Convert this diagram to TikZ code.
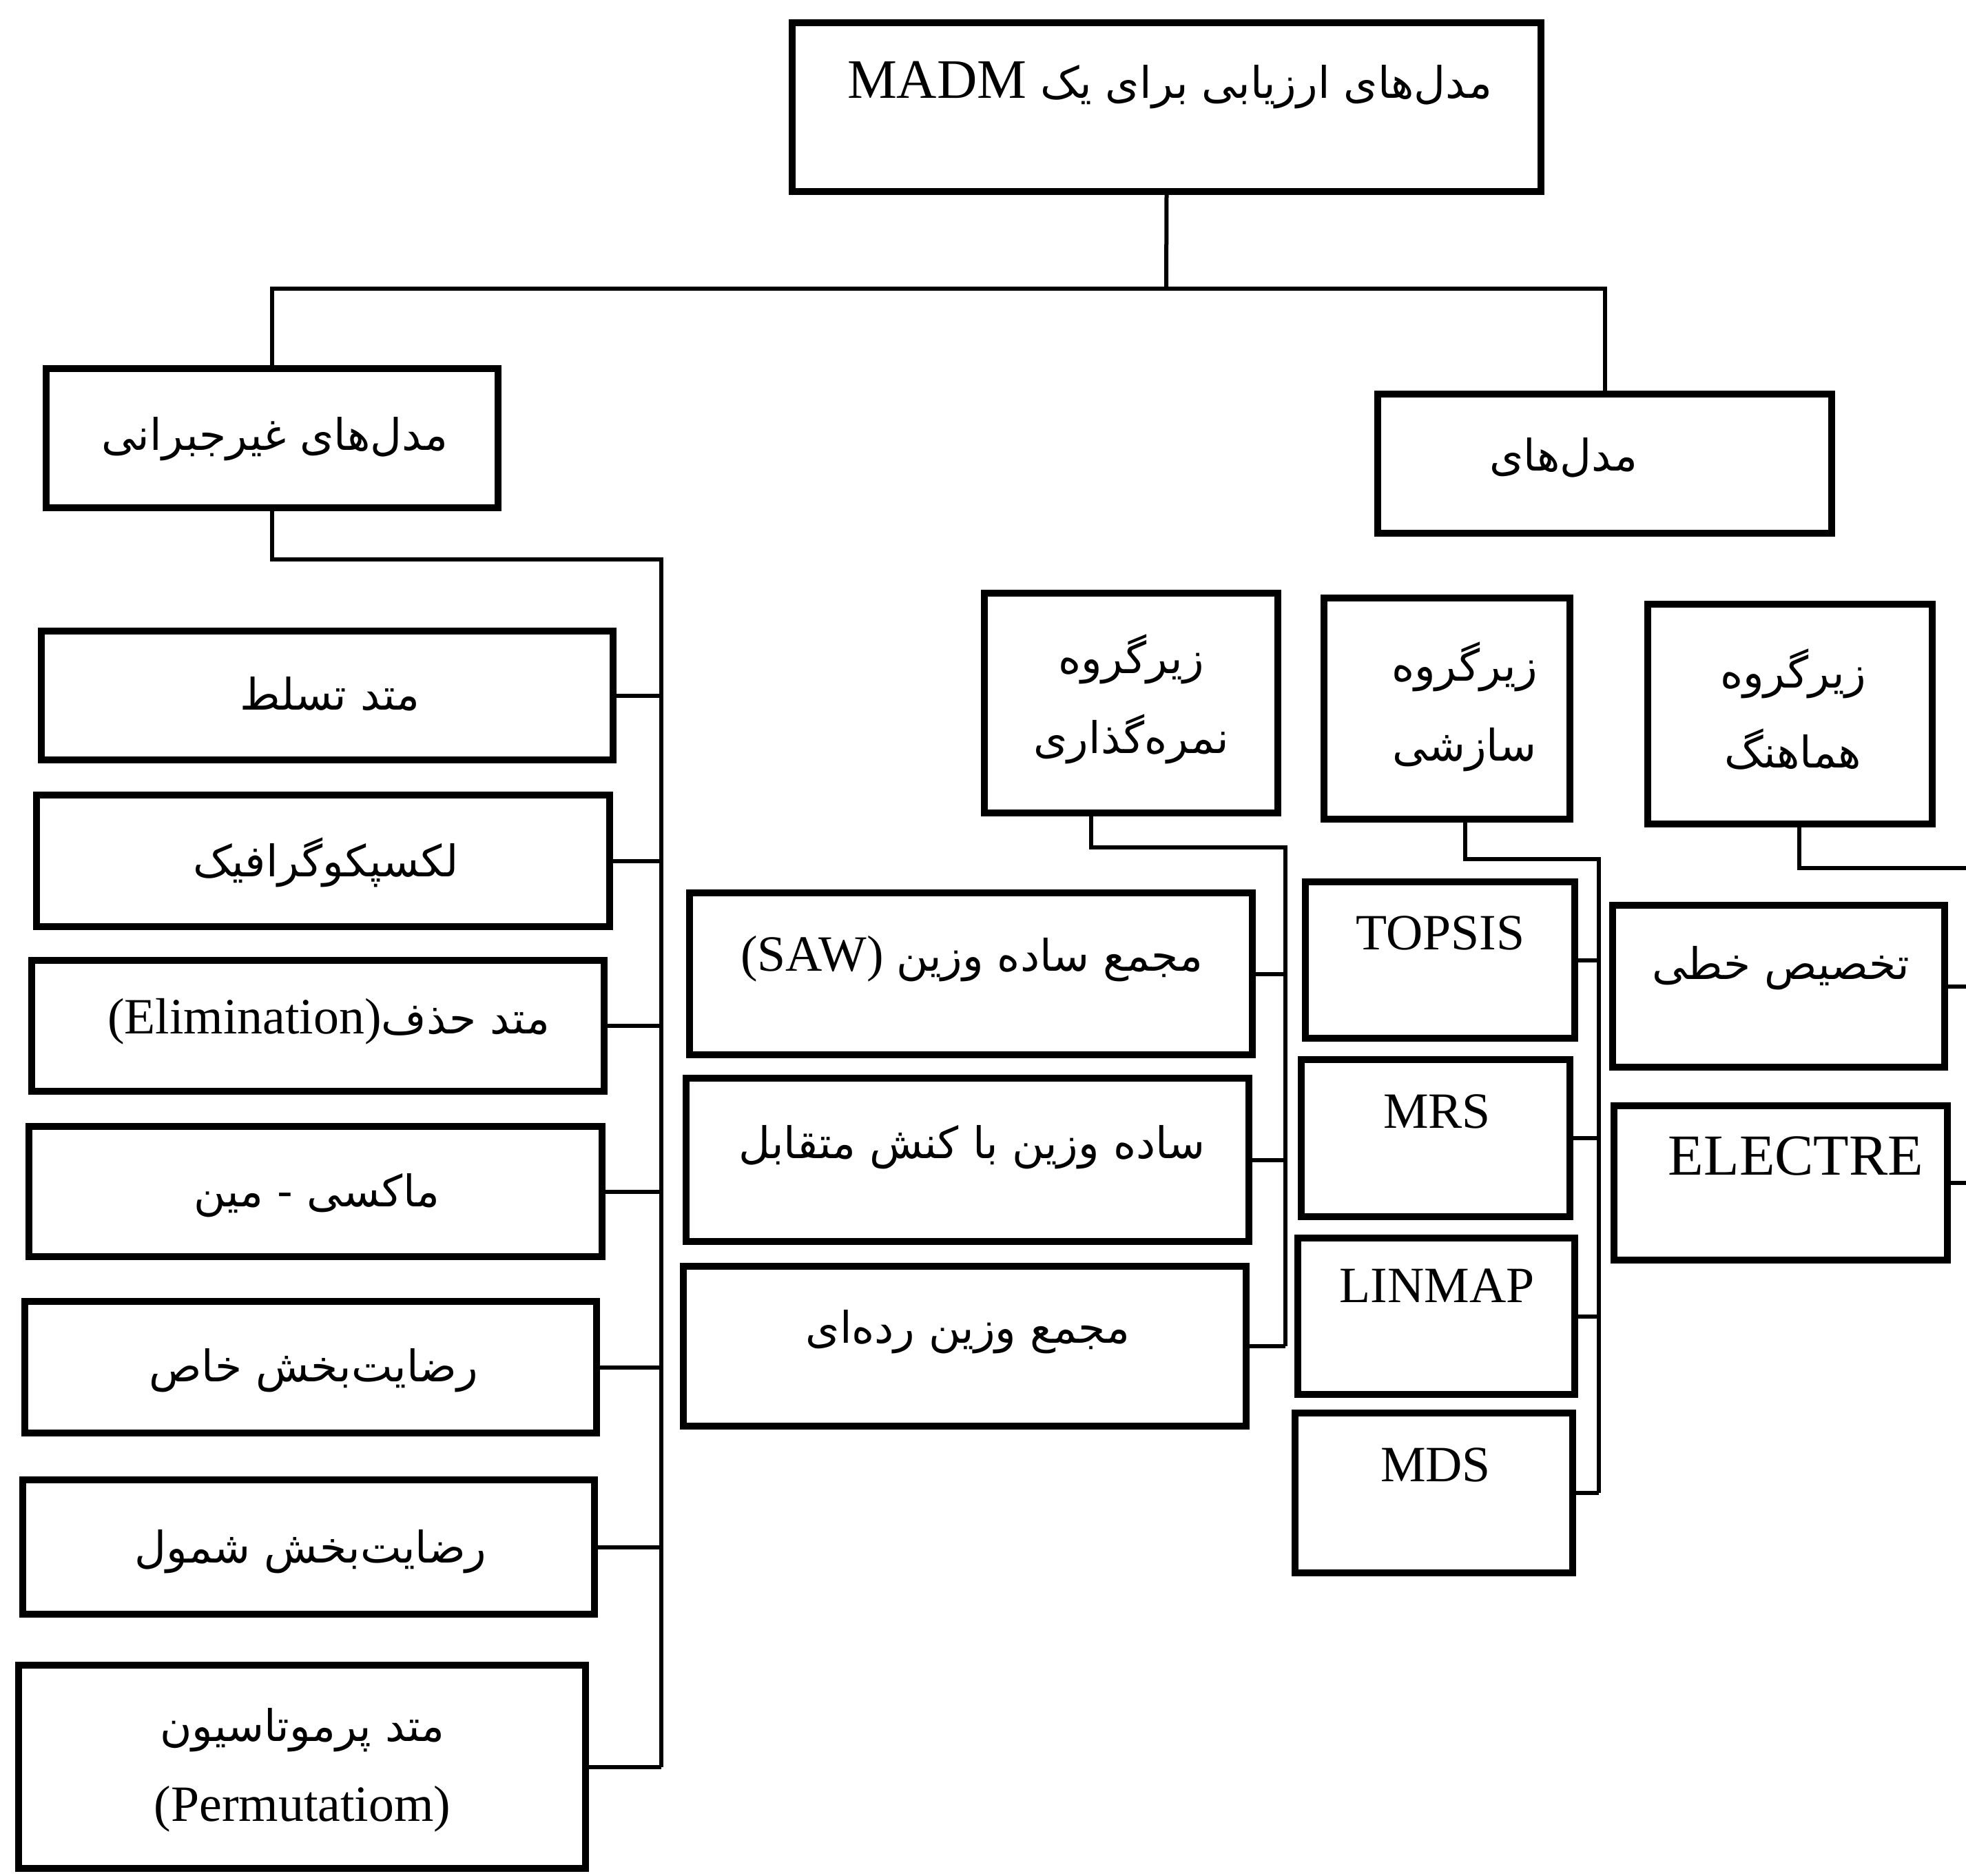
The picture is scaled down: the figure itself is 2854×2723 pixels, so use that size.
\documentclass[tikz,border=0pt]{standalone}
\usepackage{fontspec}
\setmainfont{Liberation Serif}
\newfontfamily\fafont[Script=Arabic]{DejaVu Sans}
\TeXXeTstate=1
\usetikzlibrary{fit}
\newcommand\FA[1]{{\fafont\fontsize{18}{23}\selectfont\beginR #1\endR}}
\begin{document}
\begin{tikzpicture}[x=0.1mm,y=-0.1mm,
  box/.style={draw, line width=0.95mm, inner sep=0pt, rectangle},
  conn/.style={line width=0.6mm},
  txt/.style={inner sep=0pt, font=\fontsize{21}{25}\selectfont},
  two/.style={inner sep=0pt, align=center, font=\fontsize{21}{33}\selectfont}]
\useasboundingbox (0,0) rectangle (2854,2723);

% top level
\node[box, fit={(1150,33)(2237,278)}] (top) {};
\node[txt] (ttop) at (1698,124) {\fontsize{23}{27}\selectfont MADM \FA{مدل^^^^200cهای ارزیابی برای یک}};

\node[box, fit={(67,535)(723,737)}] (nonc) {};
\node[txt] (tnonc) at (399,637) {\FA{مدل^^^^200cهای غیرجبرانی}};

\node[box, fit={(2000,572)(2659,774)}] (comp) {};
\node[txt] (tcomp) at (2270,664) {\FA{مدل^^^^200cهای}};

% left column
\node[box, fit={(60,916)(890,1103)}] (m1) {};
\node[txt] at (479,1007) {\FA{متد تسلط}};
\node[box, fit={(53,1154)(885,1345)}] (m2) {};
\node[txt] at (473,1252) {\FA{لکسپکوگرافیک}};
\node[box, fit={(46,1394)(877,1584)}] (m3) {};
\node[txt] at (477,1483) {(Elimination)\FA{متد حذف}};
\node[box, fit={(42,1635)(874,1824)}] (m4) {};
\node[txt] at (460,1735) {\FA{ماکسی - مین}};
\node[box, fit={(36,1889)(866,2080)}] (m5) {};
\node[txt] at (455,1989) {\FA{رضایت^^^^200cبخش خاص}};
\node[box, fit={(33,2148)(863,2343)}] (m6) {};
\node[txt] at (451,2252) {\FA{رضایت^^^^200cبخش شمول}};
\node[box, fit={(27,2417)(850,2712)}] (m7) {};
\node[two] at (439,2569) {\FA{متد پرموتاسیون}\\(Permutatiom)};

% subgroups
\node[box, fit={(1429,861)(1855,1180)}] (score) {};
\node[two] at (1642,1015) {\FA{زیرگروه}\\\FA{نمره^^^^200cگذاری}};
\node[box, fit={(1922,868)(2279,1189)}] (compro) {};
\node[two] at (2126,1026) {\FA{زیرگروه}\\\FA{سازشی}};
\node[box, fit={(2392,877)(2805,1196)}] (harm) {};
\node[two] at (2603,1030) {\FA{زیرگروه}\\\FA{هماهنگ}};

% scoring methods
\node[box, fit={(1001,1296)(1818,1531)}] (s1) {};
\node[txt] at (1411,1392) {(SAW) \FA{مجمع ساده وزین}};
\node[box, fit={(996,1565)(1813,1802)}] (s2) {};
\node[txt] at (1411,1665) {\FA{ساده وزین با کنش متقابل}};
\node[box, fit={(992,1838)(1809,2070)}] (s3) {};
\node[txt] at (1405,1933) {\FA{مجمع وزین رده^^^^200cای}};

% compromise methods
\node[box, fit={(1895,1280)(2286,1507)}] (c1) {};
\node[txt] at (2091,1354) {TOPSIS};
\node[box, fit={(1889,1538)(2279,1766)}] (c2) {};
\node[txt] at (2086,1613) {MRS};
\node[box, fit={(1884,1797)(2286,2024)}] (c3) {};
\node[txt] at (2086,1866) {LINMAP};
\node[box, fit={(1880,2051)(2283,2283)}] (c4) {};
\node[txt] at (2084,2126) {MDS};

% harmony methods
\node[box, fit={(2341,1314)(2823,1549)}] (h1) {};
\node[txt] at (2585,1405) {\FA{تخصیص خطی}};
\node[box, fit={(2343,1605)(2827,1829)}] (h2) {};
\node[txt] at (2607,1678) {\fontsize{24}{28}\selectfont ELECTRE};

% bus coordinates
\coordinate (topbus) at (1693,419);
\coordinate (lbus) at (960,812);
\coordinate (sbus) at (1866,1230);
\coordinate (cbus) at (2321,1247);
\coordinate (hbus) at (2854,1260);

% connectors
\draw[conn] (top.south) -- (topbus);
\draw[conn] (nonc.north) |- (topbus) -| (comp.north);

\draw[conn] (nonc.south) |- (lbus) -- (lbus |- m7.east);
\foreach \m in {m1,m2,m3,m4,m5,m6,m7}
  \draw[conn] (\m.east) -- (\m.east -| lbus);

\draw[conn] ([xshift=-5.8mm]score.south) |- (sbus) -- (sbus |- s3.east);
\foreach \s in {s1,s2,s3}
  \draw[conn] (\s.east) -- (\s.east -| sbus);

\draw[conn] ([xshift=2.6mm]compro.south) |- (cbus) -- (cbus |- c4.east);
\foreach \c in {c1,c2,c3,c4}
  \draw[conn] (\c.east) -- (\c.east -| cbus);

\draw[conn] ([xshift=1.3mm]harm.south) |- (hbus);
\draw[conn] (h1.east) -- (h1.east -| hbus);
\draw[conn] (h2.east) -- (h2.east -| hbus);
\end{tikzpicture}
\end{document}
